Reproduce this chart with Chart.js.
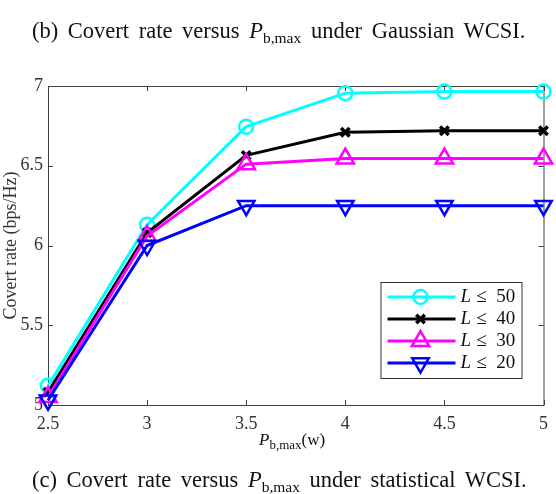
<!DOCTYPE html>
<html>
<head>
<meta charset="utf-8">
<script src="https://cdn.jsdelivr.net/npm/chart.js@4.4.0/dist/chart.umd.min.js"></script>
<style>
  body { margin: 0; background: #fff; }
  #wrap { position: relative; width: 556px; height: 494px; }
  #texts { position: absolute; left: 0; top: 0; pointer-events: none; }
  #texts text { font-family: "Liberation Serif", "Times New Roman", serif; fill: #111; }
  .cap { font-size: 22.5px; word-spacing: 4px; }
</style>
</head>
<body>
<div id="wrap">
  <canvas id="covert"></canvas>
  <svg id="texts" width="556" height="494">
    <!-- top caption -->
    <text class="cap" x="32" y="38">(b) Covert rate versus <tspan font-style="italic">P</tspan><tspan font-size="15.5" dy="5">b,max</tspan><tspan dy="-5"> under Gaussian WCSI.</tspan></text>
    <!-- x axis title -->
    <text x="259" y="445" font-size="17"><tspan font-style="italic">P</tspan><tspan font-size="13" dy="4">b,max</tspan><tspan dy="-4">(w)</tspan></text>
    <!-- bottom caption -->
    <text class="cap" x="32" y="487">(c) Covert rate versus <tspan font-style="italic">P</tspan><tspan font-size="15.5" dy="5">b,max</tspan><tspan dy="-5"> under statistical WCSI.</tspan></text>
  </svg>
</div>
<script>
// data
const powers = [2.5, 3, 3.5, 4, 4.5, 5];
const rateL50 = [5.12, 6.13, 6.745, 6.955, 6.965, 6.965];
const rateL40 = [5.08, 6.08, 6.565, 6.71, 6.72, 6.72];
const rateL30 = [5.05, 6.06, 6.51, 6.545, 6.545, 6.545];
const rateL20 = [5.03, 6.0, 6.25, 6.25, 6.25, 6.25];
const legendLabels = ['50', '40', '30', '20'];
const xTicks = [2.5, 3, 3.5, 4, 4.5, 5];
const yTicks = [5, 5.5, 6, 6.5, 7];

const serif = '"Liberation Serif", "Times New Roman", serif';

const pts = (ys) => powers.map((x, i) => ({ x: x, y: ys[i] }));

const series = [
    { data: rateL50, color: '#00ffff', style: 'circle', radius: 7, rot: 0, bw: 2.5, order: 4 },
    { data: rateL40, color: '#000000', style: 'crossRot', radius: 6, rot: 0, bw: 3.5, order: 3 },
    { data: rateL30, color: '#ff00ff', style: 'triangle', radius: 10, rot: 0, bw: 2.5, order: 2 },
    { data: rateL20, color: '#0000ff', style: 'triangle', radius: 9.5, rot: 180, bw: 2.5, order: 1 }
];

// box + inward ticks, matlab style
const boxPlugin = {
    id: 'box',
    beforeDatasetsDraw(chart) {
        const ctx = chart.ctx, a = chart.chartArea;
        const xs = chart.scales.x, ys = chart.scales.y;
        ctx.save();
        ctx.strokeStyle = '#404040';
        ctx.lineWidth = 1;
        ctx.strokeRect(a.left + 0.5, a.top + 0.5, a.right - a.left, a.bottom - a.top);
        ctx.beginPath();
        xTicks.forEach(v => {
            const px = Math.round(xs.getPixelForValue(v)) + 0.5;
            ctx.moveTo(px, a.bottom); ctx.lineTo(px, a.bottom - 5);
            ctx.moveTo(px, a.top); ctx.lineTo(px, a.top + 5);
        });
        yTicks.forEach(v => {
            const py = Math.round(ys.getPixelForValue(v)) + 0.5;
            ctx.moveTo(a.left, py); ctx.lineTo(a.left + 5, py);
            ctx.moveTo(a.right, py); ctx.lineTo(a.right - 5, py);
        });
        ctx.stroke();
        ctx.restore();
    }
};

const legendPlugin = {
    id: 'boxLegend',
    afterDatasetsDraw(chart) {
        const ctx = chart.ctx, a = chart.chartArea;
        const right = a.right - 22, top = a.top + 196;
        const w = 141, h = 96;
        const left = right - w;
        ctx.save();
        ctx.fillStyle = '#fff';
        ctx.fillRect(left, top, w, h);
        ctx.strokeStyle = '#333';
        ctx.lineWidth = 1;
        ctx.strokeRect(left + 0.5, top + 0.5, w, h);
        series.forEach((s, i) => {
            const y = top + 15 + i * 22;
            ctx.strokeStyle = s.color;
            ctx.lineWidth = 3;
            ctx.beginPath();
            ctx.moveTo(left + 7, y); ctx.lineTo(left + 75, y);
            ctx.stroke();
            ctx.fillStyle = 'rgba(0,0,0,0)';
            ctx.lineWidth = s.bw;
            Chart.helpers.drawPoint(ctx, { pointStyle: s.style, radius: s.radius, rotation: s.rot, borderWidth: s.bw }, left + 40, y);
            ctx.fillStyle = '#111';
            ctx.textBaseline = 'middle';
            ctx.font = 'italic 19px ' + serif;
            ctx.fillText('L', left + 80, y);
            ctx.font = '19px ' + serif;
            ctx.fillText(' \u2264  ' + legendLabels[i], left + 91, y);
        });
        ctx.restore();
    }
};

const chart = new Chart(document.getElementById('covert'), {
    type: 'line',
    data: {
        datasets: series.map(s => ({
            data: pts(s.data),
            borderColor: s.color,
            backgroundColor: 'rgba(0,0,0,0)',
            borderWidth: 3,
            pointStyle: s.style,
            pointRadius: s.radius,
            pointRotation: s.rot,
            pointBorderWidth: s.bw,
            pointBorderColor: s.color,
            pointBackgroundColor: 'rgba(0,0,0,0)',
            order: s.order,
            clip: false,
            tension: 0
        }))
    },
    options: {
        responsive: true,
        maintainAspectRatio: false,
        animation: false,
        layout: { padding: { top: 86, right: 12, left: 0, bottom: 0 } },
        plugins: { legend: { display: false }, tooltip: { enabled: false } },
        scales: {
            x: {
                type: 'linear',
                min: 2.5, max: 5,
                afterFit: (s) => { s.height = 89; },
                afterBuildTicks: (s) => { s.ticks = xTicks.map(v => ({ value: v })); },
                grid: { display: false, tickLength: 0 },
                border: { display: false },
                ticks: { padding: 8, color: '#333', font: { family: serif, size: 18 }, maxRotation: 0, callback: (v) => String(v) }
            },
            y: {
                min: 5, max: 7,
                afterFit: (s) => { s.width = 48; },
                afterBuildTicks: (s) => { s.ticks = yTicks.map(v => ({ value: v })); },
                grid: { display: false, tickLength: 0 },
                border: { display: false },
                ticks: { padding: 5, color: '#333', font: { family: serif, size: 18 }, callback: (v) => String(v) },
                title: { display: true, text: 'Covert rate (bps/Hz)', color: '#333', padding: { top: 0, bottom: 0 }, font: { family: serif, size: 18 } }
            }
        }
    },
    plugins: [boxPlugin, legendPlugin]
});
</script>
</body>
</html>
